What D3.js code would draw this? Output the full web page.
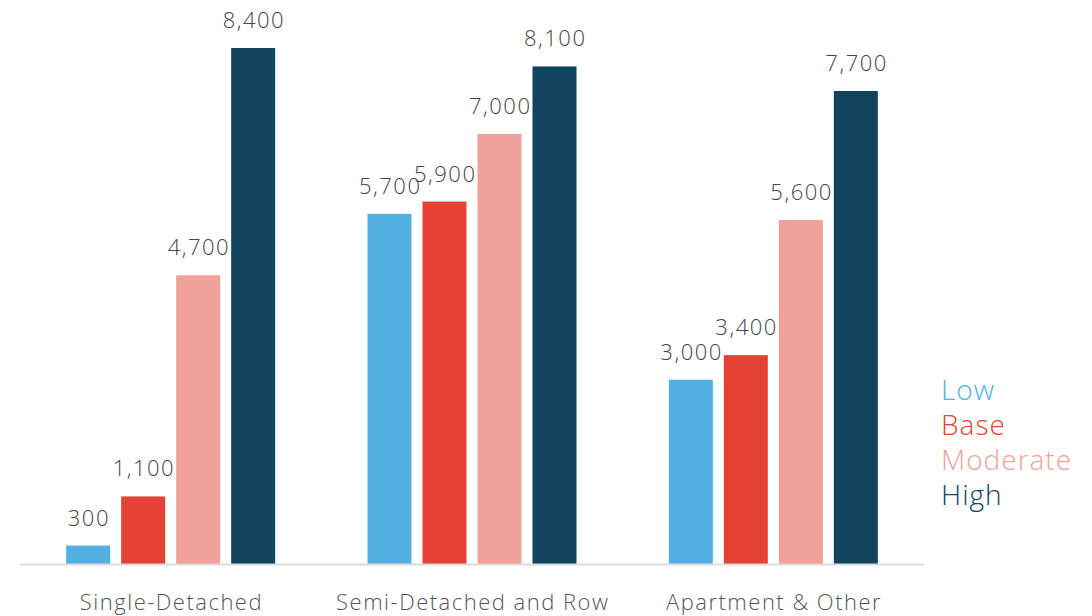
<!DOCTYPE html>
<html>
<head>
<meta charset="utf-8">
<script src="https://cdn.jsdelivr.net/npm/d3@7"></script>
<style>
  body { margin: 0; background: #fff; }
  svg text { font-family: "Open Sans", Lato, sans-serif; font-weight: 300; }
</style>
</head>
<body>
<div id="chart"></div>
<script>
// chart data
var categories = ["Single-Detached", "Semi-Detached and Row", "Apartment & Other"];
var series = ["Low", "Base", "Moderate", "High"];
var lowValues = [300, 5700, 3000];
var baseValues = [1100, 5900, 3400];
var moderateValues = [4700, 7000, 5600];
var highValues = [8400, 8100, 7700];
var colors = ["#52b0e3", "#e34234", "#f0a19a", "#12435f"];

var allValues = [lowValues, baseValues, moderateValues, highValues];

var width = 1092, height = 616;

var svg = d3.select("#chart")
  .append("svg")
  .attr("width", width)
  .attr("height", height);

var x0 = d3.scaleBand()
  .domain(categories)
  .range([20, 924]);

var x1 = d3.scaleBand()
  .domain(series)
  .range([0, 220])
  .paddingInner(0.2)
  .paddingOuter(0.1);

var y = d3.scaleLinear()
  .domain([0, 8400])
  .range([564, 48]);

// flatten into rows
var rows = [];
categories.forEach(function (c, ci) {
  series.forEach(function (s, si) {
    rows.push({ cat: c, series: s, si: si, value: allValues[si][ci] });
  });
});

function barX(d) {
  return x0(d.cat) + x0.bandwidth() / 2 - 110 + x1(d.series);
}

svg.selectAll("rect.bar")
  .data(rows)
  .enter()
  .append("rect")
  .attr("class", "bar")
  .attr("x", barX)
  .attr("y", function (d) { return y(d.value); })
  .attr("width", x1.bandwidth())
  .attr("height", function (d) { return y(0) - y(d.value); })
  .attr("fill", function (d) { return colors[d.si]; });

svg.selectAll("text.val")
  .data(rows)
  .enter()
  .append("text")
  .attr("class", "val")
  .attr("x", function (d) { return barX(d) + x1.bandwidth() / 2 + 0.75; })
  .attr("y", function (d) { return y(d.value) - 20; })
  .attr("text-anchor", "middle")
  .attr("font-size", 22)
  .attr("letter-spacing", 1.5)
  .attr("fill", "#444")
  .text(function (d) { return d3.format(",")(d.value); });

// baseline
svg.append("line")
  .attr("x1", 20)
  .attr("x2", 924)
  .attr("y1", y(0) + 0.5)
  .attr("y2", y(0) + 0.5)
  .attr("stroke", "#dcdcdc")
  .attr("stroke-width", 2);

// category labels
svg.selectAll("text.cat")
  .data(categories)
  .enter()
  .append("text")
  .attr("class", "cat")
  .attr("x", function (d) { return x0(d) + x0.bandwidth() / 2 + 0.75; })
  .attr("y", 610)
  .attr("text-anchor", "middle")
  .attr("font-size", 22)
  .attr("letter-spacing", 1.5)
  .attr("fill", "#555")
  .text(function (d) { return d; });

// legend
svg.selectAll("text.legend")
  .data(series)
  .enter()
  .append("text")
  .attr("class", "legend")
  .attr("x", 941)
  .attr("y", function (d, i) { return 400 + i * 35; })
  .attr("font-size", 28)
  .attr("letter-spacing", 1)
  .attr("fill", function (d, i) { return colors[i]; })
  .text(function (d) { return d; });
</script>
</body>
</html>
